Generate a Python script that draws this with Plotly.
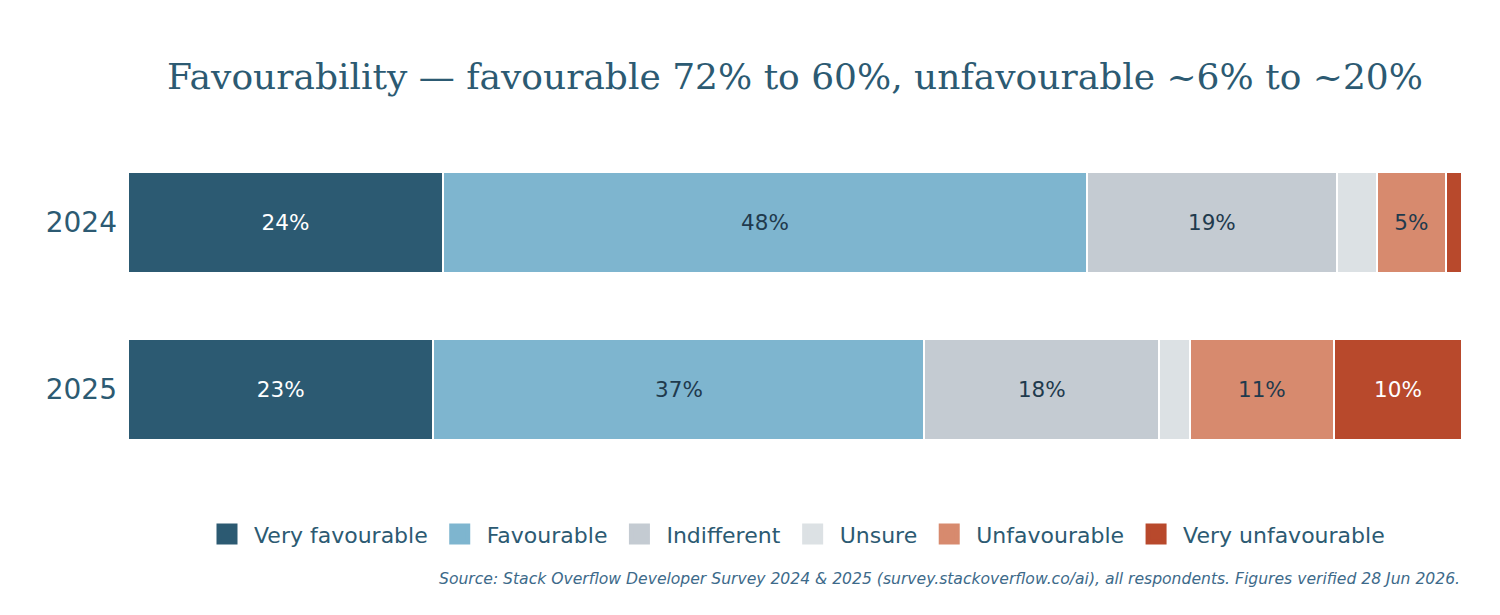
import plotly.graph_objects as go

years = ["2024", "2025"]
categories = ["Very favourable", "Favourable", "Indifferent", "Unsure", "Unfavourable", "Very unfavourable"]
values = {
    "Very favourable": [23.6, 22.9],
    "Favourable": [48.3, 36.8],
    "Indifferent": [18.7, 17.6],
    "Unsure": [3.0, 2.3],
    "Unfavourable": [5.2, 10.8],
    "Very unfavourable": [1.2, 9.6],
}
colors = ["#2c5a72", "#7eb5cf", "#c4cbd2", "#dce1e4", "#d78a6e", "#b8492c"]
text_colors = ["#ffffff", "#1f3a4d", "#1f3a4d", "#1f3a4d", "#1f3a4d", "#ffffff"]

title_text = "Favourability \u2014 favourable 72% to 60%, unfavourable ~6% to ~20%"
source_text = ("Source: Stack Overflow Developer Survey 2024 &amp; 2025 (survey.stackoverflow.co/ai), "
               "all respondents. Figures verified 28 Jun 2026.")

fig = go.Figure()
for cat, col, tcol in zip(categories, colors, text_colors):
    vals = values[cat]
    labels = [f"{round(v)}%" if v >= 4 else "" for v in vals]
    fig.add_trace(go.Bar(
        y=years, x=vals, name=cat, orientation="h", showlegend=False,
        marker=dict(color=col, line=dict(color="#ffffff", width=2)),
        text=labels, textposition="inside", insidetextanchor="middle",
        textfont=dict(family="DejaVu Sans", size=21.5, color=tcol),
        hoverinfo="skip",
    ))

# legend entries with larger square swatches
for cat, col in zip(categories, colors):
    fig.add_trace(go.Scatter(
        x=[None], y=[None], mode="markers", name=cat,
        marker=dict(symbol="square", size=25, color=col, line=dict(color=col, width=10)),
        hoverinfo="skip", showlegend=True,
    ))

fig.update_layout(
    width=1500, height=615,
    barmode="stack", bargap=0.395,
    paper_bgcolor="#ffffff", plot_bgcolor="#ffffff",
    margin=dict(l=128, r=38, t=139, b=142),
    title=dict(text=title_text, x=0.53, xanchor="center", y=0.875, yanchor="middle",
               font=dict(family="Georgia, 'DejaVu Serif', serif", size=36, color="#2c5a72")),
    xaxis=dict(range=[0, 100], visible=False, fixedrange=True),
    yaxis=dict(autorange="reversed", showgrid=False, zeroline=False, showline=False,
               ticks="", ticklabelstandoff=10,
               tickfont=dict(family="DejaVu Sans", size=28, color="#2c5a72")),
    legend=dict(orientation="h", x=0.5, xanchor="center", y=-0.183, yanchor="middle",
                font=dict(family="DejaVu Sans", size=22, color="#2c5a72"),
                traceorder="normal", itemsizing="trace", itemwidth=44),
    showlegend=True,
    annotations=[dict(text=source_text, xref="paper", yref="paper", x=1, y=-0.317,
                      xanchor="right", yanchor="middle", showarrow=False,
                      font=dict(family="DejaVu Sans", size=15.6, color="#3d6a8a", style="italic"))],
)

fig.write_html("out.html")
